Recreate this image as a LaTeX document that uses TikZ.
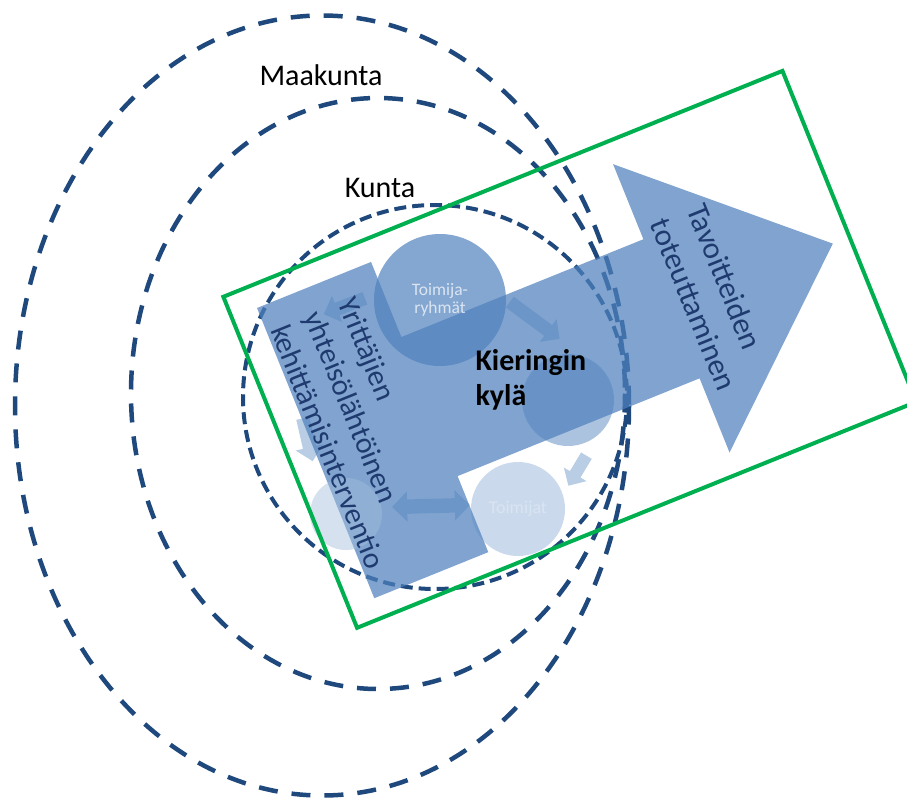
\documentclass[tikz,border=0pt]{standalone}
\usepackage{fontspec}
\setmainfont{Carlito}
\usepackage{tikz}
\usetikzlibrary{shapes.arrows,positioning}
\definecolor{ringblue}{HTML}{1F497D}
\definecolor{accent}{HTML}{4F81BD}
\definecolor{framegreen}{HTML}{00B050}
\definecolor{labelblue}{HTML}{1F3A6E}
\definecolor{paleblue}{RGB}{164,188,220}

\tikzset{
  ring/.style={draw=ringblue, line width=4.5pt, dash pattern=on 19pt off 14pt},
  villagering/.style={draw=ringblue, line width=4pt, dash pattern=on 12pt off 6pt},
  bubble/.style={circle, fill=accent, inner sep=0pt, text=white, align=center},
  flow/.style={single arrow, fill=accent, opacity=0.4, inner xsep=0pt, inner ysep=6.5pt,
    single arrow head extend=7.5pt, single arrow head indent=0pt},
  biflow/.style={double arrow, fill=accent, opacity=0.4, inner xsep=0pt, inner ysep=7pt,
    double arrow head extend=8pt, double arrow head indent=0pt},
  rotlabel/.style={rotate=-68, text=labelblue, align=left},
}

\begin{document}
\begin{tikzpicture}[x=1pt,y=-1pt]
\clip (0,0) rectangle (907,798);

% maakunta, kunta, kyla
\draw[ring] (322,405.5) ellipse [x radius=307, y radius=390];
\draw[ring] (378,393.5) ellipse [x radius=247, y radius=295.5];
\draw[villagering] (435,397) circle [radius=192];

\node[font=\fontsize{30}{35}\selectfont, anchor=base] (maakunta) at (321,85) {Maakunta};
\node[font=\fontsize{30}{35}\selectfont, anchor=base] (kunta) at (380,197) {Kunta};

% big arrow and frame
\begin{scope}[shift={(257,308)}, rotate=22]
\fill[accent, opacity=0.72] (0,0) -- (123,0) -- (123,81) -- (384,81) -- (384,0)
  -- (558,156) -- (384,311) -- (384,231) -- (123,231) -- (123,313) -- (0,313) -- cycle;
\coordinate (f1) at (-27,-23);
\coordinate (f2) at (576,-23);
\coordinate (f3) at (576,334);
\coordinate (f4) at (-27,334);
\end{scope}

% cycle
\node[bubble, minimum size=132pt, fill opacity=0.7,
  font=\fontsize{17.5}{18.5}\selectfont] (ryhmat) at (440,300) {Toimija-\\ryhmät};
\node[bubble, minimum size=92pt, fill opacity=0.48] (right) at (568,400) {};
\node[bubble, minimum size=94pt, fill opacity=0.3,
  font=\fontsize{18}{20}\selectfont] (toimijat) at (518,509) {Toimijat};
\node[bubble, minimum size=72pt, fill=paleblue, fill opacity=0.45] (left) at (346,514) {};

\node[flow, minimum height=62pt, rotate=-36.5] (a1) at (532,318.5) {};
\node[flow, minimum height=35pt, inner ysep=6pt, single arrow head extend=7pt, rotate=-121] (a2) at (579,468) {};
\node[biflow, minimum height=78pt, rotate=1.5] (a3) at (431,506) {};
\node[flow, minimum height=44pt, rotate=-158.7] (a4) at (347.5,305) {};
\node[flow, minimum height=44pt, rotate=-77] (a5) at (307,436.5) {};

% texts
\node[font=\fontsize{30}{35}\selectfont\bfseries, align=left, anchor=west] (kyla) at (472,380) {Kieringin\\kylä};
\node[rotlabel, font=\fontsize{30}{36.5}\selectfont] (yrittajat) at (362,433)
  {Yrittäjien\\yhteisölähtöinen\\kehittämisinterventio};
\node[rotlabel, font=\fontsize{31}{39}\selectfont] (tavoite) at (712,297)
  {Tavoitteiden\\toteuttaminen};

\draw[framegreen, line width=4pt] (f1) -- (f2) -- (f3) -- (f4) -- cycle;
\end{tikzpicture}
\end{document}
